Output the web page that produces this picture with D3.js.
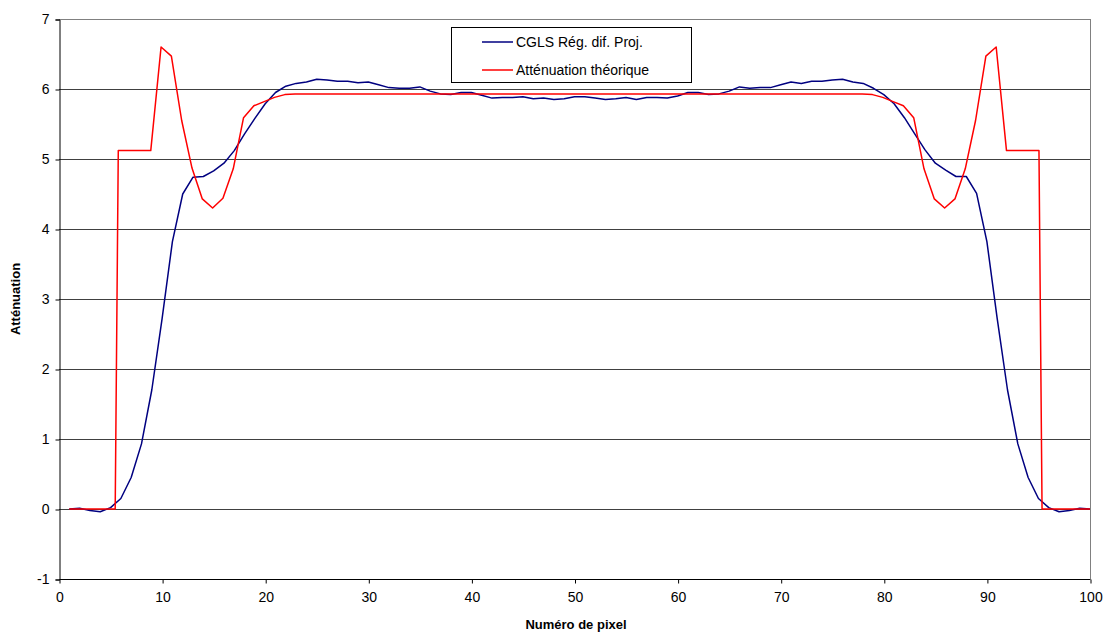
<!DOCTYPE html>
<html>
<head>
<meta charset="utf-8">
<script src="https://cdn.jsdelivr.net/npm/d3@7"></script>
<style>
  html, body { margin: 0; padding: 0; background: #fff; }
  svg { display: block; font-family: Arial, "Liberation Sans", sans-serif; }
</style>
</head>
<body>
<svg id="chart" width="1109" height="632"></svg>
<script>
// ---- Data ----
const blueX = d3.range(1, 101);
const blueY = [
  0.00, 0.01, -0.02, -0.04, 0.02, 0.15, 0.45, 0.93, 1.70, 2.72,
  3.82, 4.50, 4.74, 4.75, 4.83, 4.94, 5.12, 5.36, 5.58, 5.79,
  5.95, 6.04, 6.08, 6.10, 6.14, 6.13, 6.11, 6.11, 6.09, 6.10,
  6.06, 6.02, 6.01, 6.01, 6.03, 5.97, 5.93, 5.92, 5.95, 5.95,
  5.91, 5.87, 5.88, 5.88, 5.89, 5.86, 5.87, 5.85, 5.86, 5.89,
  5.89, 5.87, 5.85, 5.86, 5.88, 5.85, 5.88, 5.88, 5.87, 5.90,
  5.95, 5.95, 5.92, 5.93, 5.97, 6.03, 6.01, 6.02, 6.02, 6.06,
  6.10, 6.08, 6.11, 6.11, 6.13, 6.14, 6.10, 6.08, 6.01, 5.92,
  5.79, 5.59, 5.36, 5.13, 4.94, 4.84, 4.75, 4.75, 4.51, 3.82,
  2.72, 1.70, 0.93, 0.45, 0.15, 0.02, -0.04, -0.02, 0.01, 0.00
];
const redX = [1, 5.45, 5.75, 8.9, 9.9, 10.9, 11.9, 12.9, 13.9, 14.9, 15.9, 16.9, 17.9, 18.9, 19.9, 20.9, 21.9, 22.9,
              77.9, 78.9, 79.9, 80.9, 81.9, 82.9, 83.9, 84.9, 85.9, 86.9, 87.9, 88.9, 89.9, 90.9, 91.9, 95.05, 95.35, 100];
const redY = [0, 0, 5.12, 5.12, 6.6, 6.47, 5.55, 4.87, 4.43, 4.3, 4.44, 4.86, 5.59, 5.76, 5.82, 5.88, 5.92, 5.93,
              5.93, 5.92, 5.88, 5.82, 5.76, 5.59, 4.86, 4.43, 4.3, 4.43, 4.86, 5.55, 6.47, 6.6, 5.12, 5.12, 0, 0];
const seriesNames = ["CGLS Rég. dif. Proj.", "Atténuation théorique"];
const seriesColors = ["#000080", "#ff0000"];
const xTicks = [0, 10, 20, 30, 40, 50, 60, 70, 80, 90, 100];
const yTicks = [-1, 0, 1, 2, 3, 4, 5, 6, 7];
const xTitle = "Numéro de pixel";
const yTitle = "Atténuation";

// ---- Layout ----
const svg = d3.select("#chart");
const L = 59, R = 1090, T = 19, B = 579;
const x = d3.scaleLinear().domain([0, 100]).range([L, R]);
const y = d3.scaleLinear().domain([-1, 7]).range([B, T]);
const fmt = d => String(d);

// gridlines
svg.append("g").selectAll("line").data(yTicks.filter(d => d > -1)).join("line")
  .attr("x1", L).attr("x2", R)
  .attr("y1", d => Math.round(y(d)) + 0.5).attr("y2", d => Math.round(y(d)) + 0.5)
  .attr("stroke", d => d === 7 ? "#808080" : "#404040").attr("stroke-width", 1);

// right border
svg.append("line").attr("x1", R + 0.5).attr("x2", R + 0.5).attr("y1", T).attr("y2", B)
  .attr("stroke", "#808080");

// axes
const yAxis = d3.axisLeft(y).tickValues(yTicks).tickSize(4).tickPadding(6).tickFormat(fmt);
const gy = svg.append("g").attr("transform", `translate(${L + 0.5},0.5)`).call(yAxis);
const xAxis = d3.axisBottom(x).tickValues(xTicks).tickSize(4).tickPadding(9).tickFormat(fmt);
const gx = svg.append("g").attr("transform", `translate(0.5,${B + 0.5})`).call(xAxis);
[gx, gy].forEach(g => {
  g.select(".domain").attr("stroke", "#000").attr("stroke-width", 1);
  g.selectAll(".tick line").attr("stroke", "#000");
  g.selectAll("text").attr("font-size", 14).attr("fill", "#000")
    .attr("font-family", "Arial, 'Liberation Sans', sans-serif");
});
gx.select(".domain").attr("d", `M${L},0H${R}`);

// lines
const line = d3.line().x(d => x(d[0])).y(d => y(d[1]));
const blueData = blueX.map((v, i) => [v, blueY[i]]);
const redData = redX.map((v, i) => [v, redY[i]]);
svg.append("path").datum(blueData).attr("d", line)
  .attr("fill", "none").attr("stroke", seriesColors[0]).attr("stroke-width", 1.5).attr("stroke-linejoin", "round");
svg.append("path").datum(redData).attr("d", line)
  .attr("fill", "none").attr("stroke", seriesColors[1]).attr("stroke-width", 1.5).attr("stroke-linejoin", "round");

// legend
const lg = svg.append("g");
lg.append("rect").attr("x", 451.5).attr("y", 27.5).attr("width", 240).attr("height", 55)
  .attr("fill", "#fff").attr("stroke", "#000").attr("stroke-width", 1);
seriesNames.forEach((n, i) => {
  const yy = 42 + i * 28;
  lg.append("line").attr("x1", 482).attr("x2", 513).attr("y1", yy).attr("y2", yy)
    .attr("stroke", seriesColors[i]).attr("stroke-width", 1.5);
  lg.append("text").attr("x", 516).attr("y", yy + 5).attr("font-size", 14).text(n);
});

// titles
svg.append("text").attr("x", 576).attr("y", 629).attr("text-anchor", "middle")
  .attr("font-size", 13).attr("font-weight", "bold").text(xTitle);
svg.append("text").attr("transform", "translate(20,299) rotate(-90)").attr("text-anchor", "middle")
  .attr("font-size", 13).attr("font-weight", "bold").text(yTitle);
</script>
</body>
</html>
